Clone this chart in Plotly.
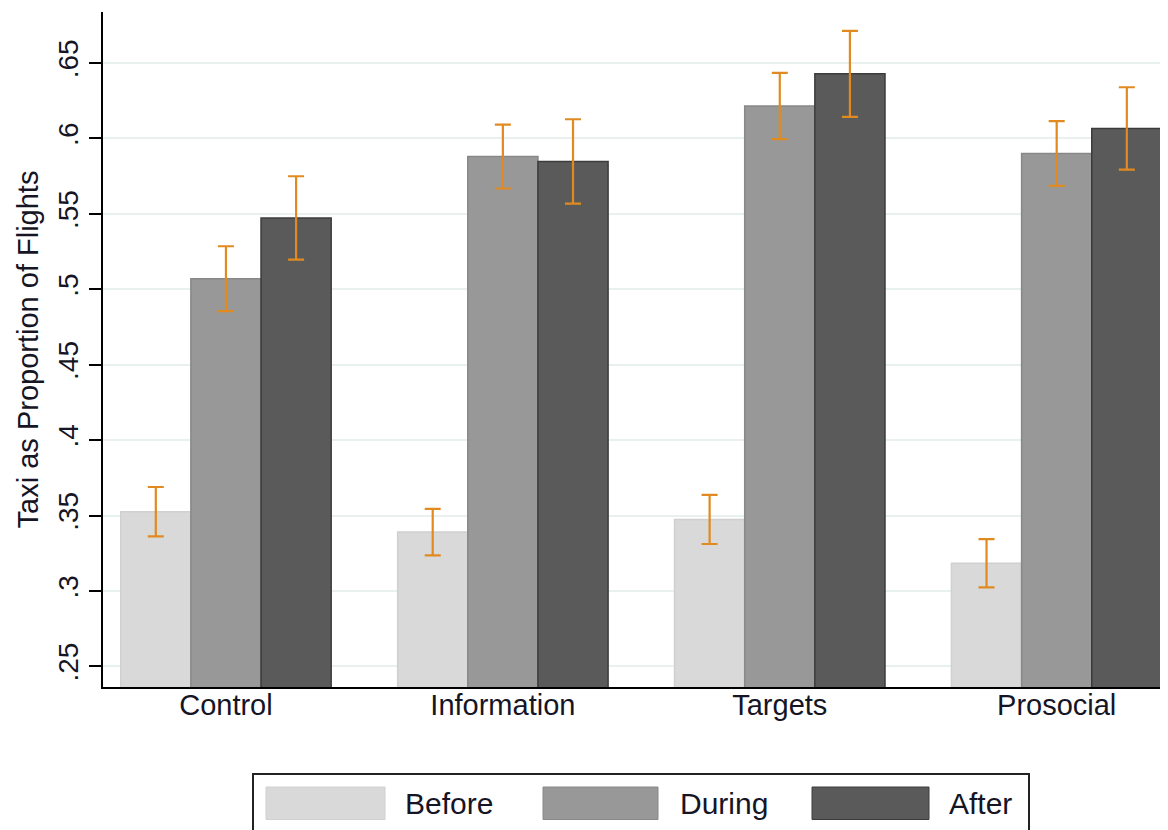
import plotly.graph_objects as go

categories = ["Control", "Information", "Targets", "Prosocial"]
series_names = ["Before", "During", "After"]
before = [0.3525, 0.3390, 0.3474, 0.3183]
before_err = [0.0164, 0.0154, 0.0163, 0.0160]
during = [0.5070, 0.5880, 0.6215, 0.5900]
during_err = [0.0215, 0.0212, 0.0220, 0.0215]
after = [0.5473, 0.5847, 0.6428, 0.6066]
after_err = [0.0276, 0.0280, 0.0285, 0.0273]
y_ticks = [0.25, 0.3, 0.35, 0.4, 0.45, 0.5, 0.55, 0.6, 0.65]
y_tick_text = [".25", ".3", ".35", ".4", ".45", ".5", ".55", ".6", ".65"]

colors = ["#d9d9d9", "#989898", "#5a5a5a"]
outline = ["#d0d0d0", "#888888", "#3c3c3c"]
err_color = "#e08a1f"
FONT = "Liberation Sans, Arial, sans-serif"

OFF = 8  # page body margin
W, H = 1168 - OFF, 830 - OFF
L, T = 103 - OFF, 12 - OFF
R = 0
B = H - (687 - OFF)
pw, ph = W - L - R, H - T - B

def px(x):
    return (x - OFF - L) / pw

def py(y):
    return (H - B - (y - OFF)) / ph

fig = go.Figure()
values = [before, during, after]
errs = [before_err, during_err, after_err]
xs = list(range(len(categories)))
for i, name in enumerate(series_names):
    fig.add_trace(go.Bar(
        x=xs, y=values[i], name=name, showlegend=False,
        marker=dict(color=colors[i], line=dict(color=outline[i], width=1.5)),
        error_y=dict(type="data", array=errs[i], visible=True,
                     color=err_color, thickness=2.2, width=8),
    ))

fig.update_layout(
    width=W, height=H,
    margin=dict(l=L, r=R, t=T, b=B, autoexpand=False),
    paper_bgcolor="white", plot_bgcolor="white",
    barmode="group", bargap=0.24, bargroupgap=0,
    font=dict(family=FONT, color="#111111"),
)
fig.update_xaxes(
    range=[-0.444, 3.402], tickvals=xs, ticktext=categories,
    showline=True, linecolor="black", linewidth=2, showgrid=False,
    ticks="", tickfont=dict(size=29, family=FONT, color="#151525"),
    ticklabelstandoff=-9, zeroline=False, automargin=False,
)
fig.update_yaxes(
    range=[0.2363, 0.6838], tickvals=y_ticks, ticktext=y_tick_text,
    tickangle=-90, ticks="outside", ticklen=12, tickwidth=2, tickcolor="black",
    showline=True, linecolor="black", linewidth=2,
    showgrid=True, gridcolor="#e8f0f0", gridwidth=2, zeroline=False,
    tickfont=dict(size=28, family=FONT, color="#151525"),
    ticklabelstandoff=0,
    title=dict(text="Taxi as Proportion of Flights",
               font=dict(size=29, family=FONT, color="#151525"), standoff=6),
    automargin=False,
)

# legend drawn as a boxed key below the plot
fig.add_shape(type="rect", xref="paper", yref="paper",
              x0=px(253), x1=px(1029), y0=py(774), y1=py(845),
              line=dict(color="#222222", width=2), fillcolor="white")
sw_x = [(266, 385), (543, 658), (812, 929)]
lab_x = [403, 678, 947]
for i, name in enumerate(series_names):
    fig.add_shape(type="rect", xref="paper", yref="paper",
                  x0=px(sw_x[i][0]), x1=px(sw_x[i][1]),
                  y0=py(787), y1=py(819.5),
                  line=dict(color=outline[i], width=1), fillcolor=colors[i])
    fig.add_annotation(xref="paper", yref="paper", x=px(lab_x[i]), y=py(803),
                       text=name, showarrow=False, xanchor="left", yanchor="middle",
                       font=dict(size=30, family=FONT, color="#151525"))

fig.write_html("out.html")
